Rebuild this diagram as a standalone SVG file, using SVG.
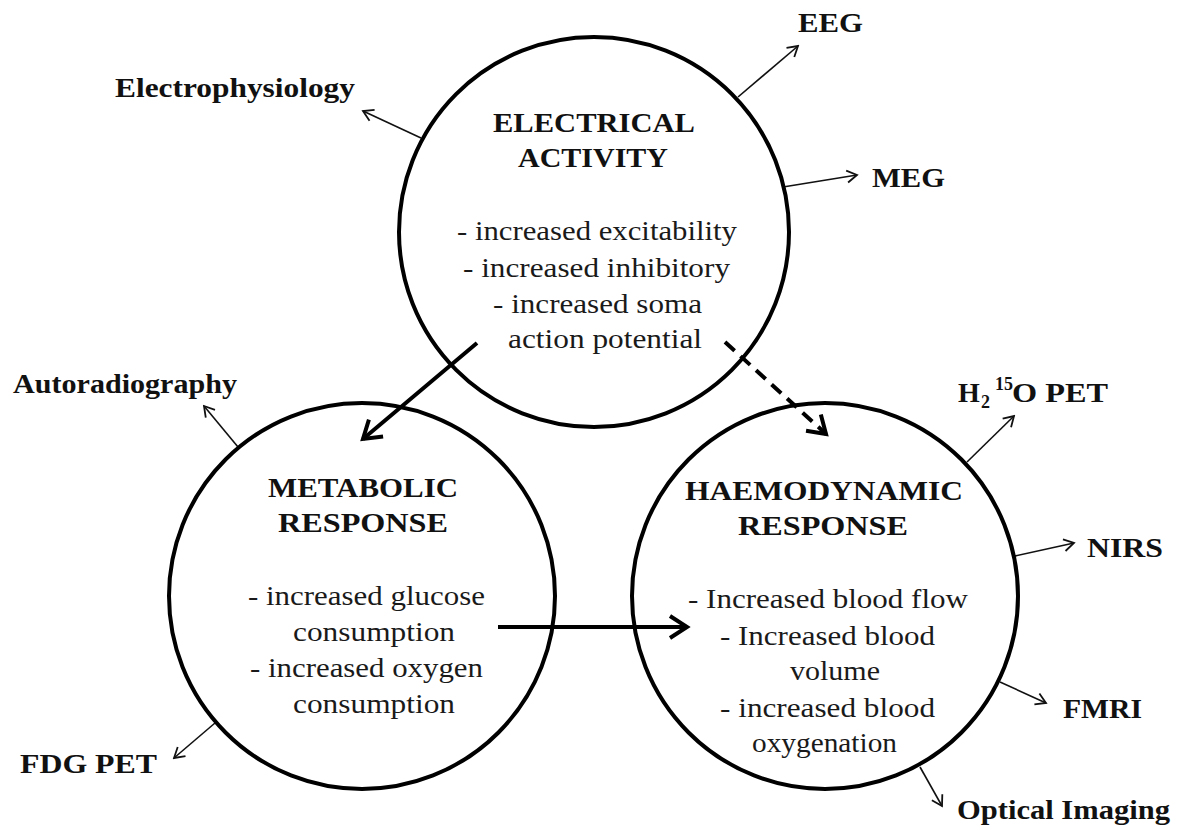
<svg xmlns="http://www.w3.org/2000/svg" width="1179" height="830" viewBox="0 0 1179 830">
  <style>
    .ring { fill: none; stroke: #000; stroke-width: 4; }
    .title { font-family: "Liberation Serif", "Times New Roman", serif; font-weight: bold; font-size: 28px; fill: #111; }
    .body { font-family: "Liberation Serif", "Times New Roman", serif; font-size: 27px; fill: #1a1a1a; }
    .label { font-family: "Liberation Serif", "Times New Roman", serif; font-weight: bold; font-size: 28px; fill: #111; }
    .small { font-size: 18px; }
    .thin { stroke: #111; stroke-width: 1.6; fill: none; marker-end: url(#headThin); }
    .thick { stroke: #000; stroke-width: 4; fill: none; marker-end: url(#headThick); }
    .dashed { stroke-dasharray: 13 8; }
  </style>
  <defs>
    <marker id="headThin" viewBox="-12 -8 14 16" refX="0" refY="0" markerWidth="14" markerHeight="16" markerUnits="userSpaceOnUse" orient="auto">
      <path d="M -10 -6 L 0 0 L -10 6" fill="none" stroke="#111" stroke-width="1.8"/>
    </marker>
    <marker id="headThick" viewBox="-22 -14 26 28" refX="0" refY="0" markerWidth="26" markerHeight="28" markerUnits="userSpaceOnUse" orient="auto">
      <path d="M -17 -11 L 0 0 L -17 11" fill="none" stroke="#000" stroke-width="4"/>
    </marker>
  </defs>

  <rect width="1179" height="830" fill="#fff"/>

  <!-- connectors -->
  <g id="connectors">
    <line class="thick" x1="477" y1="343" x2="363" y2="439"/>
    <line class="thick dashed" x1="725" y1="342" x2="826" y2="434"/>
    <line class="thick" x1="498" y1="627" x2="687" y2="627"/>

    <line class="thin" x1="421" y1="138" x2="363" y2="111"/>
    <line class="thin" x1="738" y1="97" x2="798" y2="46"/>
    <line class="thin" x1="783" y1="187" x2="857" y2="175"/>
    <line class="thin" x1="238" y1="447" x2="204" y2="406"/>
    <line class="thin" x1="215" y1="723" x2="174" y2="758"/>
    <line class="thin" x1="967" y1="462" x2="1014" y2="416"/>
    <line class="thin" x1="1015" y1="556" x2="1074" y2="543"/>
    <line class="thin" x1="1000" y1="682" x2="1046" y2="703"/>
    <line class="thin" x1="920" y1="767" x2="942" y2="806"/>
  </g>

  <!-- electrical activity -->
  <g id="electrical">
    <circle class="ring" cx="594" cy="232" r="195"/>
    <text class="title" x="493" y="132" textLength="202" lengthAdjust="spacingAndGlyphs">ELECTRICAL</text>
    <text class="title" x="518" y="167" textLength="150" lengthAdjust="spacingAndGlyphs">ACTIVITY</text>
    <text class="body" x="457" y="240" textLength="280" lengthAdjust="spacingAndGlyphs">- increased excitability</text>
    <text class="body" x="463" y="277" textLength="267" lengthAdjust="spacingAndGlyphs">- increased inhibitory</text>
    <text class="body" x="493" y="313" textLength="209" lengthAdjust="spacingAndGlyphs">- increased soma</text>
    <text class="body" x="508" y="348" textLength="194" lengthAdjust="spacingAndGlyphs">action potential</text>
  </g>

  <!-- metabolic response -->
  <g id="metabolic">
    <circle class="ring" cx="362" cy="596" r="193"/>
    <text class="title" x="268" y="497" textLength="190" lengthAdjust="spacingAndGlyphs">METABOLIC</text>
    <text class="title" x="278" y="532" textLength="170" lengthAdjust="spacingAndGlyphs">RESPONSE</text>
    <text class="body" x="248" y="605" textLength="237" lengthAdjust="spacingAndGlyphs">- increased glucose</text>
    <text class="body" x="293" y="641" textLength="162" lengthAdjust="spacingAndGlyphs">consumption</text>
    <text class="body" x="250" y="677" textLength="233" lengthAdjust="spacingAndGlyphs">- increased oxygen</text>
    <text class="body" x="293" y="713" textLength="162" lengthAdjust="spacingAndGlyphs">consumption</text>
  </g>

  <!-- haemodynamic response -->
  <g id="haemodynamic">
    <circle class="ring" cx="825" cy="596" r="193"/>
    <text class="title" x="685" y="500" textLength="278" lengthAdjust="spacingAndGlyphs">HAEMODYNAMIC</text>
    <text class="title" x="738" y="535" textLength="170" lengthAdjust="spacingAndGlyphs">RESPONSE</text>
    <text class="body" x="688" y="608" textLength="280" lengthAdjust="spacingAndGlyphs">- Increased blood flow</text>
    <text class="body" x="720" y="645" textLength="215" lengthAdjust="spacingAndGlyphs">- Increased blood</text>
    <text class="body" x="790" y="680" textLength="90" lengthAdjust="spacingAndGlyphs">volume</text>
    <text class="body" x="720" y="717" textLength="215" lengthAdjust="spacingAndGlyphs">- increased blood</text>
    <text class="body" x="752" y="752" textLength="145" lengthAdjust="spacingAndGlyphs">oxygenation</text>
  </g>

  <!-- measurement techniques -->
  <g id="electrophysiology"><text class="label" x="115" y="97" textLength="240" lengthAdjust="spacingAndGlyphs">Electrophysiology</text></g>
  <g id="eeg"><text class="label" x="798" y="32" textLength="65" lengthAdjust="spacingAndGlyphs">EEG</text></g>
  <g id="meg"><text class="label" x="872" y="187" textLength="73" lengthAdjust="spacingAndGlyphs">MEG</text></g>
  <g id="autoradiography"><text class="label" x="13" y="393" textLength="224" lengthAdjust="spacingAndGlyphs">Autoradiography</text></g>
  <g id="fdg-pet"><text class="label" x="20" y="773" textLength="137" lengthAdjust="spacingAndGlyphs">FDG PET</text></g>
  <g id="h2o-pet">
    <text class="label" x="958" y="402">H</text>
    <text class="label small" x="981" y="408">2</text>
    <text class="label small" x="995" y="390">15</text>
    <text class="label" x="1012" y="402" textLength="96" lengthAdjust="spacingAndGlyphs">O PET</text>
  </g>
  <g id="nirs"><text class="label" x="1087" y="557" textLength="76" lengthAdjust="spacingAndGlyphs">NIRS</text></g>
  <g id="fmri"><text class="label" x="1063" y="718" textLength="79" lengthAdjust="spacingAndGlyphs">FMRI</text></g>
  <g id="optical-imaging"><text class="label" x="957" y="819" textLength="213" lengthAdjust="spacingAndGlyphs">Optical Imaging</text></g>
</svg>
